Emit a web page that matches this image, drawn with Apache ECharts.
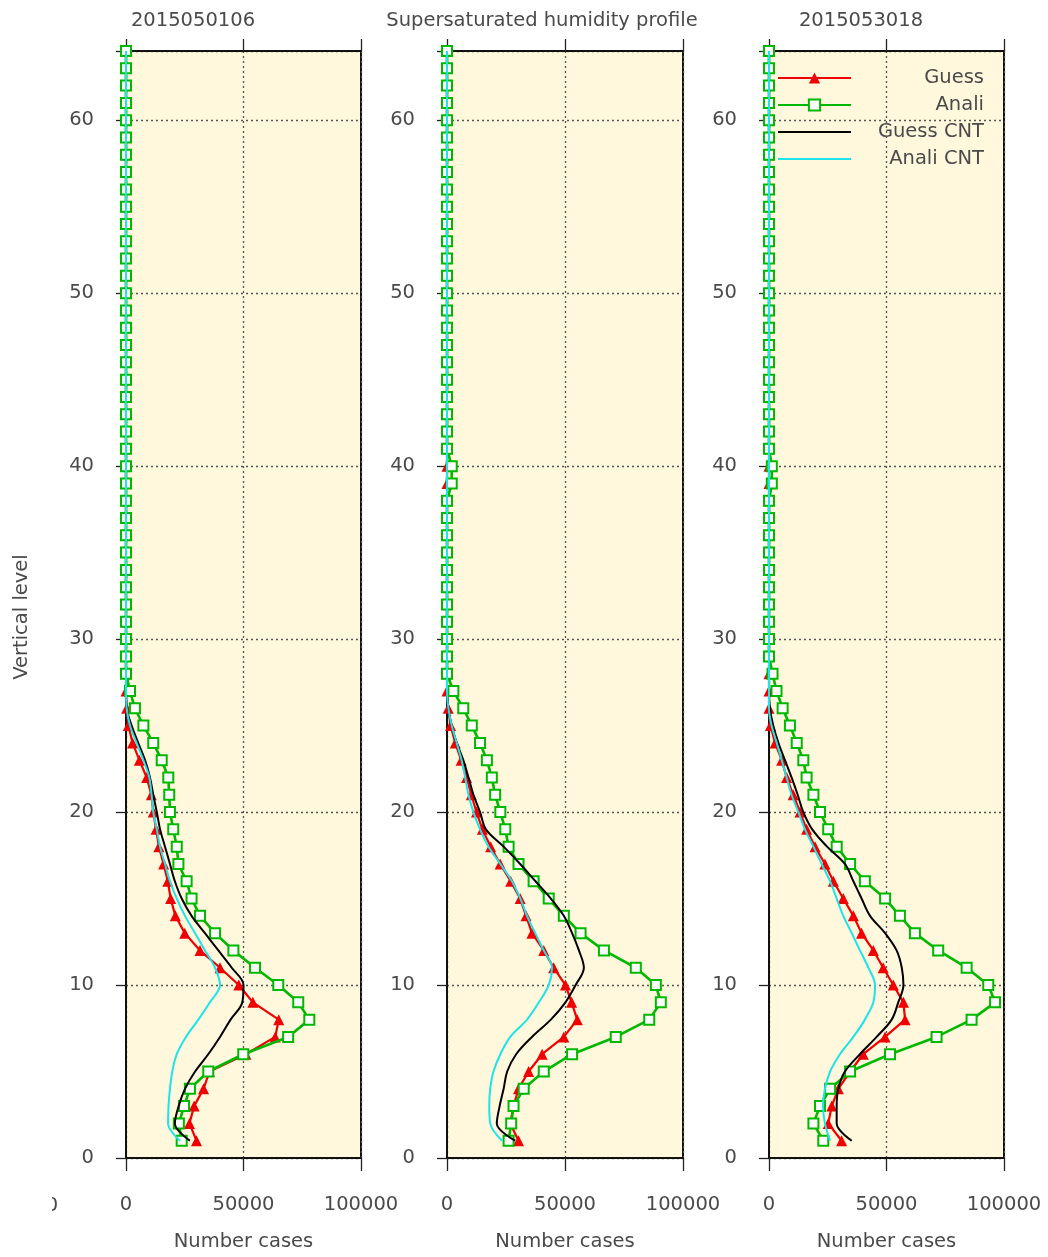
<!DOCTYPE html>
<html>
<head>
<meta charset="utf-8">
<script src="https://cdn.jsdelivr.net/npm/echarts@6/dist/echarts.min.js"></script>
<style>
html,body{margin:0;padding:0;background:#fff;}
#chart{width:1048px;height:1257px;}
</style>
</head>
<body>
<div id="chart"></div>
<script>
const levels = [1,2,3,4,5,6,7,8,9,10,11,12,13,14,15,16,17,18,19,20,21,22,23,24,25,26,27,28,29,30,31,32,
  33,34,35,36,37,38,39,40,41,42,43,44,45,46,47,48,49,50,51,52,53,54,55,56,57,58,59,60,61,62,63,64];

const panelTitles = ['2015050106', 'Supersaturated humidity profile', '2015053018'];
const seriesNames = ['Guess', 'Anali', 'Guess CNT', 'Anali CNT'];
const xTicks = [0, 50000, 100000];
const yTicks = [0, 10, 20, 30, 40, 50, 60];

// Panel 1 (2015050106)
const guess1 = [30000,27000,29000,33000,35500,51000,63500,65000,54000,48000,
  40000,31500,25000,21000,19000,17800,16000,14000,12800,11600,
  10800,8800,5700,2800,1000,300,0,
  0,0,0,0,0,0,0,0,0,0, 0,0,0,0,0,0,0,0,0,0, 0,0,0,0,0,0,0,0,0,0, 0,0,0,0,0,0,0];
const analy1 = [23700,22500,24700,27200,35000,49900,69000,78000,73300,64800,
  54900,45700,37900,31500,27900,25800,22300,21600,20100,18700,
  18400,18000,15200,11600,7400,3800,1700,
  0,0,0,0,0,0,0,0,0,0, 0,0,0,0,0,0,0,0,0,0, 0,0,0,0,0,0,0,0,0,0, 0,0,0,0,0,0,0];
const gcnt1 = [27200,20800,22400,25100,29400,35000,40000,44500,49500,50000,
  45000,39300,33600,27900,23700,20800,18700,16600,14500,13100,
  11600,10200,8100,5200,2400,300,0,
  0,0,0,0,0,0,0,0,0,0, 0,0,0,0,0,0,0,0,0,0, 0,0,0,0,0,0,0,0,0,0, 0,0,0,0,0,0,0];
const acnt1 = [23000,17900,18100,18700,19700,21600,25500,30800,35700,40000,
  37900,33600,29400,25100,21600,18700,16600,14500,13100,11600,
  10900,9900,7400,4500,1700,300,0,
  0,0,0,0,0,0,0,0,0,0, 0,0,0,0,0,0,0,0,0,0, 0,0,0,0,0,0,0,0,0,0, 0,0,0,0,0,0,0];

// Panel 2
const guess2 = [30300,26800,28200,30300,34600,40300,49500,55200,52800,50200,
  45200,41000,36000,33500,31000,27000,22500,18500,15000,12500,
  10300,8300,6000,3500,1500,500,0,
  0,0,0,0,0,0,0,0,0,0, 0,0,0,0,0,0,0,0,0,0, 0,0,0,0,0,0,0,0,0,0, 0,0,0,0,0,0,0];
const analy2 = [26100,27200,28200,32500,41000,53000,71500,85700,90600,88500,
  80000,66500,56600,49500,43100,36700,30300,26100,24700,22600,
  20400,19000,16900,14000,10500,6900,2700,
  0,0,0,0,0,0,0,0,0,0, 0,2000,2000,0,0,0,0,0,0,0, 0,0,0,0,0,0,0,0,0,0, 0,0,0,0,0,0,0];
const gcnt2 = [28900,21100,22300,24000,25500,29300,36000,44000,50200,54500,
  58000,55900,53000,49500,44000,37500,31000,24000,16500,14000,
  11200,9100,6900,4100,2000,600,0,
  0,0,0,0,0,0,0,0,0,0, 0,0,0,0,0,0,0,0,0,0, 0,0,0,0,0,0,0,0,0,0, 0,0,0,0,0,0,0];
const acnt2 = [23300,18300,17900,18300,19700,22600,26800,33900,38900,43100,
  44500,41000,37400,33900,31100,27500,22600,17600,14000,11200,
  9100,7700,6200,4100,2000,600,0,
  0,0,0,0,0,0,0,0,0,0, 0,0,0,0,0,0,0,0,0,0, 0,0,0,0,0,0,0,0,0,0, 0,0,0,0,0,0,0];

// Panel 3 (2015053018)
const guess3 = [30900,25200,26700,29500,34500,40100,49400,57900,57200,52900,
  48600,44400,39400,35900,31600,27400,23800,19600,16000,13200,
  10300,7500,5400,2600,600,0,0,
  0,0,0,0,0,0,0,0,0,0, 0,0,0,0,0,0,0,0,0,0, 0,0,0,0,0,0,0,0,0,0, 0,0,0,0,0,0,0];
const analy3 = [23100,18900,21700,26000,34500,51500,71300,86200,96200,93300,
  84100,72000,62100,55700,49400,40800,34500,28800,25200,21700,
  18900,16000,14600,11800,8900,5800,3200,
  1500,0,0,0,0,0,0,0,0,0, 0,1200,1200,0,0,0,0,0,0,0, 0,0,0,0,0,0,0,0,0,0, 0,0,0,0,0,0,0];
const gcnt3 = [35200,28800,28800,29500,32300,38700,45800,52200,55000,57200,
  56500,54300,49400,43000,39400,35900,32300,24700,18400,14600,
  12200,9600,6800,4000,1800,400,0,
  0,0,0,0,0,0,0,0,0,0, 0,0,0,0,0,0,0,0,0,0, 0,0,0,0,0,0,0,0,0,0, 0,0,0,0,0,0,0];
const acnt3 = [26000,23800,23000,23800,26000,30200,35900,40800,44400,45100,
  42300,38700,35200,31600,28800,26000,22400,18900,15300,12500,
  9600,7500,5400,3300,1100,0,0,
  0,0,0,0,0,0,0,0,0,0, 0,0,0,0,0,0,0,0,0,0, 0,0,0,0,0,0,0,0,0,0, 0,0,0,0,0,0,0];

const panels = [
  [guess1, analy1, gcnt1, acnt1],
  [guess2, analy2, gcnt2, acnt2],
  [guess3, analy3, gcnt3, acnt3]
];

const FONT = 'DejaVu Sans';
const TXT = '#4a4a4a';
const FS = 19.5;
const RED = '#f00000';
const GREEN = '#00b800';
const CYAN = '#1de4ea';
const BG = '#fff8dc';
const NOFILL = 'rgba(0,0,0,0)';

const gridPos = [
  {left: 126, width: 235},
  {left: 447, width: 236},
  {left: 769, width: 235}
];

const grids = gridPos.map(g => ({
  left: g.left, top: 51, width: g.width, height: 1113,
  show: true, backgroundColor: BG, borderColor: '#111', borderWidth: 2,
  containLabel: false
}));

const xAxes = [], yAxes = [], series = [];
const dotted = {color: '#555', width: 1.3, type: [2, 3]};

panels.forEach((arrs, i) => {
  xAxes.push({
    type: 'value', gridIndex: i, position: 'bottom',
    min: xTicks[0], max: xTicks[xTicks.length - 1], interval: xTicks[1] - xTicks[0],
    axisLine: {show: true, onZero: false, lineStyle: {color: '#111', width: 2}},
    axisTick: {show: true, inside: false, length: 13, lineStyle: {color: '#222', width: 1.3}},
    axisLabel: {show: true, margin: 37, fontFamily: FONT, fontSize: FS, color: TXT,
      formatter: v => String(v)},
    splitLine: {show: true, lineStyle: dotted},
    name: 'Number cases', nameLocation: 'middle', nameGap: 74,
    nameTextStyle: {fontFamily: FONT, fontSize: FS, color: TXT}
  });
  xAxes.push({
    type: 'value', gridIndex: i, position: 'top',
    min: xTicks[0], max: xTicks[xTicks.length - 1], interval: xTicks[1] - xTicks[0],
    axisLine: {show: true, onZero: false, lineStyle: {color: '#111', width: 2}},
    axisTick: {show: true, inside: false, length: 12, lineStyle: {color: '#222', width: 1.3}},
    axisLabel: {show: false},
    splitLine: {show: false}
  });
  yAxes.push({
    type: 'value', gridIndex: i, position: 'left',
    min: 0, max: 64, interval: yTicks[1] - yTicks[0],
    axisLine: {show: true, onZero: false, lineStyle: {color: '#111', width: 2}},
    axisTick: {show: true, inside: false, length: 10, lineStyle: {color: '#222', width: 1.3}},
    axisLabel: {show: true, margin: 32, fontFamily: FONT, fontSize: FS, color: TXT,
      formatter: v => (yTicks.indexOf(v) >= 0 ? String(v) : '')},
    splitLine: {show: true, lineStyle: dotted}
  });

  const toData = arr => levels.map((l, k) => [arr[k], l]);
  series.push({
    type: 'line', name: seriesNames[0], xAxisIndex: i * 2, yAxisIndex: i,
    data: toData(arrs[0]), symbol: 'triangle', symbolSize: 11, showSymbol: true,
    itemStyle: {color: RED}, lineStyle: {color: RED, width: 2.2},
    clip: false, animation: false, emphasis: {disabled: true}, z: 2
  });
  series.push({
    type: 'line', name: seriesNames[1], xAxisIndex: i * 2, yAxisIndex: i,
    data: toData(arrs[1]), symbol: 'emptyRect', symbolSize: 10, showSymbol: true,
    itemStyle: {color: GREEN, borderColor: GREEN, borderWidth: 2.2},
    lineStyle: {color: GREEN, width: 2.6},
    clip: false, animation: false, emphasis: {disabled: true}, z: 3
  });
  series.push({
    type: 'line', name: seriesNames[2], xAxisIndex: i * 2, yAxisIndex: i,
    data: toData(arrs[2]), showSymbol: false, symbol: 'none', smooth: 0.35,
    itemStyle: {color: NOFILL, borderWidth: 0}, lineStyle: {color: '#000', width: 2},
    clip: false, animation: false, emphasis: {disabled: true}, z: 4
  });
  series.push({
    type: 'line', name: seriesNames[3], xAxisIndex: i * 2, yAxisIndex: i,
    data: toData(arrs[3]), showSymbol: false, symbol: 'none', smooth: 0.35,
    itemStyle: {color: NOFILL, borderWidth: 0}, lineStyle: {color: CYAN, width: 2},
    clip: false, animation: false, emphasis: {disabled: true}, z: 5
  });
});

const titleText = (text, x) => ({
  type: 'text', x: x, y: 21,
  style: {text: text, textAlign: 'center', textVerticalAlign: 'middle',
    fontFamily: FONT, fontSize: FS, fill: TXT}
});

const option = {
  backgroundColor: '#fff',
  animation: false,
  grid: grids,
  xAxis: xAxes,
  yAxis: yAxes,
  series: series,
  legend: {
    data: seriesNames,
    orient: 'vertical',
    left: 777, top: 68,
    padding: 0,
    itemWidth: 73, itemHeight: 14, itemGap: 7,
    align: 'left',
    selectedMode: false,
    formatter: n => '{t|' + n + '}',
    textStyle: {
      fontFamily: FONT, fontSize: FS, color: TXT,
      rich: {t: {width: 128, align: 'right', fontFamily: FONT, fontSize: FS, color: TXT, lineHeight: 22}}
    }
  },
  graphic: [
    titleText(panelTitles[0], 193),
    titleText(panelTitles[1], 542),
    titleText(panelTitles[2], 861),
    {type: 'text', x: 22, y: 617, rotation: Math.PI / 2,
      style: {text: 'Vertical level', textAlign: 'center', textVerticalAlign: 'middle',
        fontFamily: FONT, fontSize: FS, fill: TXT}},
    {type: 'text', x: 52, y: 1206,
      style: {text: '0', textAlign: 'center', textVerticalAlign: 'middle',
        fontFamily: FONT, fontSize: FS, fill: TXT}, z: 10},
    {type: 'rect', shape: {x: 0, y: 1190, width: 52, height: 30},
      style: {fill: '#fff'}, z: 11}
  ]
};

const chart = echarts.init(document.getElementById('chart'), null, {renderer: 'canvas'});
chart.setOption(option);
</script>
</body>
</html>
